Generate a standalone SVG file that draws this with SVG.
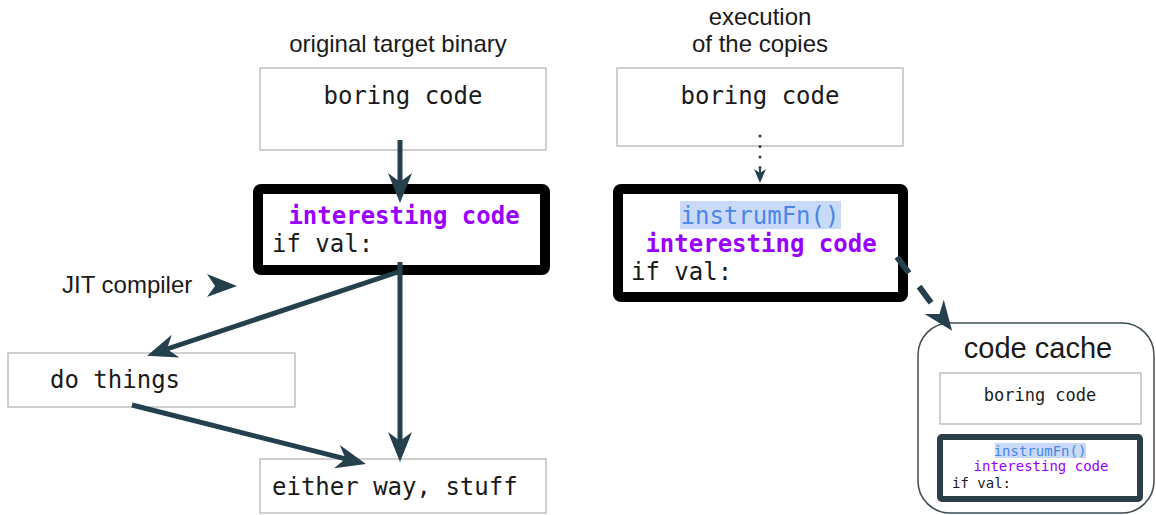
<svg xmlns="http://www.w3.org/2000/svg" width="1156" height="515" viewBox="0 0 1156 515">
<defs>
<style>
.sans{font-family:"Liberation Sans",Arial,sans-serif;fill:#1a1a1a}
.mono{font-family:"DejaVu Sans Mono","Liberation Mono",monospace;fill:#1a1a1a}
.box{fill:#fff;stroke:#b7b7b7;stroke-width:1.3}
.thick{fill:#fff;stroke:#000;stroke-width:10}
.purple{fill:#9900ff;font-weight:bold}
.blue{fill:#4a86e8}
.hl{fill:#c9daf8}
.conn{stroke:#25404d;fill:none;stroke-width:5}
</style>
<marker id="ah" viewBox="0 0 30 24" markerWidth="30" markerHeight="24" markerUnits="userSpaceOnUse" refX="9" refY="12" orient="auto">
<path d="M0,0 L30,12 L0,24 L9,12 Z" fill="#25404d"/>
</marker>
<marker id="ahs" viewBox="0 0 14 12" markerWidth="14" markerHeight="12" markerUnits="userSpaceOnUse" refX="4" refY="6" orient="auto">
<path d="M0,0 L14,6 L0,12 L4,6 Z" fill="#25404d"/>
</marker>
</defs>
<rect width="1156" height="515" fill="#fff"/>

<g id="labels">
<text class="sans" x="398" y="52" font-size="24" text-anchor="middle">original target binary</text>
<text class="sans" x="760" y="25" font-size="24" text-anchor="middle">execution</text>
<text class="sans" x="760" y="52" font-size="24" text-anchor="middle">of the copies</text>
<text class="sans" x="62" y="293" font-size="24">JIT compiler</text>
<polygon points="207,274 237,286 207,297 215,286" fill="#25404d"/>
</g>

<g id="boring1">
<rect class="box" x="260" y="68" width="286" height="82"/>
<text class="mono" x="403" y="104" font-size="24" text-anchor="middle">boring code</text>
</g>

<g id="interesting1">
<rect class="thick" x="258" y="189" width="287" height="81" rx="3"/>
<text class="mono purple" x="404" y="224" font-size="24" text-anchor="middle">interesting code</text>
<text class="mono" x="272" y="252" font-size="24">if val:</text>
</g>

<g id="dothings">
<rect class="box" x="8" y="353" width="287" height="54"/>
<text class="mono" x="50" y="388" font-size="24">do things</text>
</g>

<g id="eitherway">
<rect class="box" x="260" y="459" width="286" height="54"/>
<text class="mono" x="272" y="495" font-size="24">either way, stuff</text>
</g>

<g id="boring2">
<rect class="box" x="617" y="68" width="286" height="78"/>
<text class="mono" x="760" y="104" font-size="24" text-anchor="middle">boring code</text>
</g>

<g id="interesting2">
<rect class="thick" x="618" y="189" width="285" height="108" rx="3"/>
<rect class="hl" x="680" y="201" width="161" height="28"/>
<text class="mono blue" x="760" y="224" font-size="24" text-anchor="middle">instrumFn()</text>
<text class="mono purple" x="761" y="252" font-size="24" text-anchor="middle">interesting code</text>
<text class="mono" x="631" y="280" font-size="24">if val:</text>
</g>

<g id="codecache">
<rect x="918" y="323" width="236" height="190" rx="32" fill="#fff" stroke="#3f4c55" stroke-width="1.5"/>
<text class="sans" x="1038" y="358" font-size="29" text-anchor="middle">code cache</text>
<g id="cache-boring">
<rect class="box" x="940" y="373" width="201" height="51"/>
<text class="mono" x="1040" y="401" font-size="17" text-anchor="middle">boring code</text>
</g>
<g id="cache-interesting">
<rect x="940" y="437" width="200" height="62" rx="2" fill="#fff" stroke="#2b3e48" stroke-width="6"/>
<rect class="hl" x="995" y="443" width="91" height="15"/>
<text class="mono blue" x="1040" y="456" font-size="14" text-anchor="middle">instrumFn()</text>
<text class="mono" x="1041" y="471" font-size="14" text-anchor="middle" fill="#9900ff" style="fill:#9900ff">interesting code</text>
<text class="mono" x="952" y="488" font-size="14">if val:</text>
</g>
</g>

<g id="connectors">
<line class="conn" x1="400" y1="140" x2="400" y2="182" marker-end="url(#ah)"/>
<line class="conn" x1="400" y1="262" x2="400" y2="441" marker-end="url(#ah)"/>
<line class="conn" x1="398" y1="272" x2="167" y2="349" marker-end="url(#ah)"/>
<line class="conn" x1="132" y1="405" x2="345.6" y2="458.8" marker-end="url(#ah)"/>
<line x1="760" y1="136" x2="760" y2="168" stroke="#25404d" stroke-width="3" stroke-linecap="round" stroke-dasharray="0 10.5" fill="none"/>
<line x1="760" y1="169" x2="760" y2="173" stroke="#25404d" stroke-width="2" marker-end="url(#ahs)"/>
<line x1="897" y1="257" x2="939.5" y2="314" stroke="#25404d" stroke-width="6" stroke-dasharray="20 17" fill="none" marker-end="url(#ah)"/>
</g>
</svg>
